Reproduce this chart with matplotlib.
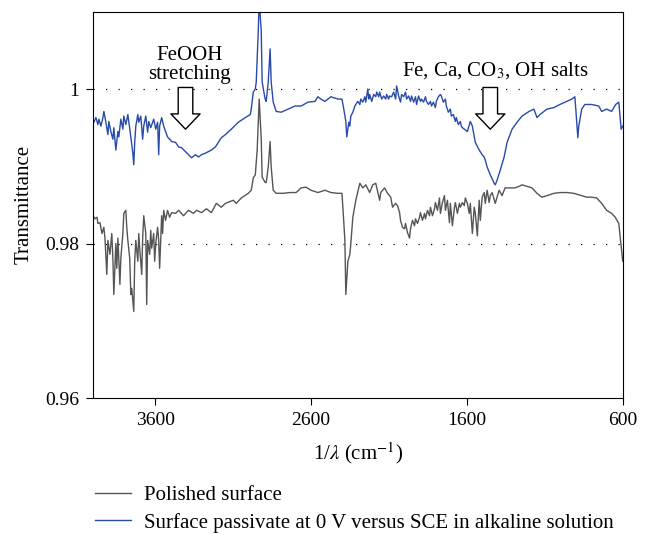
import matplotlib
matplotlib.use("Agg")
import matplotlib.pyplot as plt

plt.rcParams['font.family'] = ['Liberation Serif', 'DejaVu Serif']
plt.rcParams['mathtext.fontset'] = 'stix'

# wavenumber (cm-1) / transmittance
blue_wn = [4000, 3994, 3981, 3968, 3962, 3949, 3936, 3930, 3917, 3904,
           3898, 3885, 3872, 3866, 3853, 3840, 3834, 3821, 3808, 3802,
           3789, 3776, 3770, 3757, 3744, 3738, 3732, 3725, 3712, 3706,
           3693, 3681, 3674, 3661, 3649, 3642, 3629, 3617, 3610, 3597,
           3585, 3578, 3572, 3559, 3546, 3534, 3521, 3508, 3495, 3470,
           3450, 3431, 3406, 3387, 3367, 3342, 3323, 3303, 3278, 3259,
           3240, 3214, 3195, 3176, 3150, 3112, 3067, 3022, 2990, 2984,
           2971, 2958, 2952, 2939, 2933, 2920, 2914, 2895, 2888, 2875,
           2863, 2856, 2843, 2824, 2792, 2748, 2703, 2664, 2620, 2575,
           2556, 2537, 2511, 2473, 2428, 2402, 2390, 2377, 2371, 2358,
           2351, 2345, 2332, 2319, 2313, 2300, 2287, 2281, 2268, 2255,
           2249, 2236, 2230, 2224, 2211, 2198, 2185, 2179, 2166, 2160,
           2147, 2134, 2121, 2115, 2102, 2096, 2083, 2070, 2057, 2051,
           2038, 2026, 2019, 2006, 1994, 1987, 1974, 1962, 1955, 1942,
           1930, 1923, 1910, 1898, 1891, 1878, 1866, 1859, 1847, 1834,
           1827, 1815, 1802, 1796, 1783, 1770, 1764, 1751, 1738, 1732,
           1719, 1706, 1700, 1687, 1674, 1668, 1655, 1642, 1636, 1629,
           1597, 1578, 1565, 1546, 1521, 1502, 1489, 1482, 1470, 1450,
           1425, 1418, 1406, 1386, 1361, 1342, 1310, 1278, 1246, 1201,
           1170, 1150, 1131, 1086, 1041, 1003, 958, 926, 907, 901,
           888, 882, 863, 843, 799, 754, 735, 703, 671, 645,
           625, 610, 600]
blue_t = [0.9961, 0.9957, 0.9963, 0.9954, 0.9961, 0.9952, 0.9963, 0.9971, 0.9957, 0.9941,
          0.9958, 0.9945, 0.9935, 0.9950, 0.9921, 0.9945, 0.9938, 0.9961, 0.9948, 0.9965,
          0.9954, 0.9967, 0.9958, 0.9938, 0.9917, 0.9902, 0.9931, 0.9952, 0.9967, 0.9957,
          0.9965, 0.9935, 0.9952, 0.9965, 0.9944, 0.9958, 0.9950, 0.9957, 0.9961, 0.9948,
          0.9957, 0.9915, 0.9952, 0.9963, 0.9952, 0.9945, 0.9938, 0.9935, 0.9932, 0.9931,
          0.9925, 0.9924, 0.9919, 0.9915, 0.9911, 0.9915, 0.9912, 0.9915, 0.9917, 0.9919,
          0.9921, 0.9925, 0.9931, 0.9937, 0.9941, 0.9948, 0.9957, 0.9963, 0.9967, 0.9974,
          0.9996, 1.0000, 1.0009, 1.0075, 1.0115, 1.0075, 1.0009, 0.9987, 0.9984, 1.0009,
          1.0052, 1.0009, 0.9983, 0.9971, 0.9970, 0.9974, 0.9978, 0.9978, 0.9983, 0.9984,
          0.9990, 0.9987, 0.9984, 0.9990, 0.9987, 0.9987, 0.9974, 0.9958, 0.9938, 0.9957,
          0.9952, 0.9965, 0.9970, 0.9978, 0.9980, 0.9984, 0.9980, 0.9987, 0.9983, 0.9990,
          0.9983, 1.0000, 0.9987, 0.9993, 0.9984, 0.9993, 0.9990, 0.9996, 0.9990, 0.9996,
          0.9987, 0.9991, 0.9987, 0.9993, 0.9987, 0.9991, 0.9990, 0.9996, 0.9987, 1.0004,
          0.9991, 0.9983, 0.9993, 0.9990, 0.9996, 0.9987, 0.9991, 0.9984, 0.9991, 0.9983,
          0.9990, 0.9980, 0.9991, 0.9984, 0.9987, 0.9983, 0.9990, 0.9984, 0.9980, 0.9984,
          0.9978, 0.9983, 0.9976, 0.9984, 0.9990, 0.9993, 0.9991, 0.9983, 0.9987, 0.9978,
          0.9970, 0.9974, 0.9965, 0.9967, 0.9958, 0.9963, 0.9954, 0.9958, 0.9952, 0.9950,
          0.9945, 0.9958, 0.9952, 0.9931, 0.9921, 0.9915, 0.9912, 0.9908, 0.9899, 0.9889,
          0.9878, 0.9876, 0.9882, 0.9895, 0.9912, 0.9931, 0.9948, 0.9957, 0.9965, 0.9971,
          0.9974, 0.9963, 0.9967, 0.9974, 0.9976, 0.9980, 0.9984, 0.9987, 0.9990, 0.9974,
          0.9937, 0.9952, 0.9974, 0.9980, 0.9980, 0.9978, 0.9971, 0.9974, 0.9971, 0.9980,
          0.9983, 0.9948, 0.9952]

gray_wn = [4000, 3987, 3974, 3968, 3955, 3942, 3930, 3923, 3911, 3904,
           3891, 3879, 3872, 3866, 3853, 3847, 3840, 3827, 3821, 3808,
           3802, 3789, 3783, 3776, 3764, 3757, 3751, 3738, 3732, 3725,
           3712, 3706, 3700, 3687, 3681, 3674, 3661, 3655, 3649, 3636,
           3629, 3623, 3610, 3604, 3597, 3585, 3578, 3572, 3559, 3553,
           3546, 3534, 3521, 3508, 3495, 3470, 3450, 3419, 3387, 3355,
           3335, 3303, 3272, 3240, 3208, 3176, 3150, 3099, 3080, 3048,
           3003, 2984, 2971, 2958, 2946, 2933, 2920, 2914, 2895, 2888,
           2875, 2863, 2856, 2843, 2824, 2779, 2735, 2696, 2664, 2633,
           2601, 2556, 2511, 2473, 2428, 2402, 2396, 2383, 2377, 2364,
           2351, 2345, 2332, 2313, 2287, 2268, 2249, 2224, 2204, 2185,
           2160, 2153, 2128, 2109, 2089, 2077, 2058, 2045, 2032, 2026,
           2013, 2000, 1994, 1981, 1968, 1962, 1949, 1936, 1930, 1917,
           1904, 1898, 1885, 1872, 1866, 1853, 1840, 1834, 1821, 1808,
           1802, 1789, 1776, 1770, 1757, 1744, 1738, 1725, 1712, 1706,
           1693, 1680, 1674, 1661, 1648, 1642, 1629, 1617, 1610, 1597,
           1585, 1578, 1565, 1553, 1546, 1533, 1521, 1514, 1502, 1489,
           1482, 1470, 1457, 1450, 1438, 1418, 1393, 1374, 1355, 1323,
           1291, 1265, 1246, 1214, 1182, 1150, 1119, 1086, 1041, 1003,
           958, 914, 863, 831, 799, 767, 735, 703, 671, 648,
           625, 600]
gray_t = [0.9836, 0.9832, 0.9834, 0.9826, 0.9827, 0.9813, 0.9821, 0.9807, 0.9760, 0.9804,
          0.9786, 0.9813, 0.9781, 0.9734, 0.9800, 0.9768, 0.9807, 0.9747, 0.9781, 0.9813,
          0.9839, 0.9843, 0.9821, 0.9804, 0.9781, 0.9734, 0.9742, 0.9712, 0.9777, 0.9804,
          0.9777, 0.9813, 0.9794, 0.9760, 0.9807, 0.9836, 0.9813, 0.9721, 0.9804, 0.9786,
          0.9817, 0.9794, 0.9813, 0.9777, 0.9800, 0.9821, 0.9804, 0.9768, 0.9836, 0.9813,
          0.9843, 0.9830, 0.9843, 0.9834, 0.9840, 0.9839, 0.9843, 0.9836, 0.9843, 0.9839,
          0.9843, 0.9840, 0.9845, 0.9840, 0.9852, 0.9847, 0.9852, 0.9856, 0.9852, 0.9859,
          0.9865, 0.9869, 0.9885, 0.9889, 0.9921, 0.9987, 0.9935, 0.9886, 0.9879, 0.9879,
          0.9899, 0.9932, 0.9899, 0.9869, 0.9865, 0.9865, 0.9866, 0.9866, 0.9872, 0.9873,
          0.9869, 0.9866, 0.9869, 0.9866, 0.9865, 0.9865, 0.9847, 0.9804, 0.9734, 0.9777,
          0.9786, 0.9800, 0.9834, 0.9856, 0.9878, 0.9872, 0.9876, 0.9866, 0.9876, 0.9878,
          0.9856, 0.9866, 0.9872, 0.9865, 0.9860, 0.9847, 0.9852, 0.9849, 0.9840, 0.9830,
          0.9821, 0.9819, 0.9826, 0.9814, 0.9807, 0.9819, 0.9830, 0.9823, 0.9832, 0.9826,
          0.9834, 0.9840, 0.9830, 0.9839, 0.9832, 0.9843, 0.9836, 0.9847, 0.9836, 0.9845,
          0.9853, 0.9843, 0.9859, 0.9839, 0.9853, 0.9862, 0.9843, 0.9856, 0.9827, 0.9852,
          0.9823, 0.9847, 0.9853, 0.9839, 0.9852, 0.9847, 0.9853, 0.9849, 0.9859, 0.9852,
          0.9839, 0.9852, 0.9813, 0.9847, 0.9839, 0.9810, 0.9856, 0.9830, 0.9860, 0.9866,
          0.9852, 0.9869, 0.9853, 0.9862, 0.9866, 0.9852, 0.9869, 0.9862, 0.9872, 0.9872,
          0.9872, 0.9874, 0.9876, 0.9874, 0.9872, 0.9865, 0.9860, 0.9862, 0.9865, 0.9866,
          0.9866, 0.9865, 0.9862, 0.9860, 0.9860, 0.9859, 0.9852, 0.9843, 0.9839, 0.9834,
          0.9826, 0.9777]

x_ticks = [3600, 2600, 1600, 600]
y_ticks = [0.96, 0.98, 1.0]
y_ticklabels = ['0.96', '0.98', '1']

fig = plt.figure(figsize=(6.5, 5.35), dpi=100)
ax = fig.add_axes([0.143, 0.256, 0.815, 0.722])

ax.plot(gray_wn, gray_t, color='#555555', lw=1.0, label='Polished surface')
ax.plot(blue_wn, blue_t, color='#2a4aa8', lw=1.0,
        label='Surface passivate at 0 V versus SCE in alkaline solution')

for yv in [1.0, 0.98]:
    ax.axhline(yv, color='black', lw=0.9, linestyle=(0, (1, 9)), zorder=0)

ax.set_xlim(4000, 600)
ax.set_ylim(0.96, 1.01)
ax.set_xticks(x_ticks)
ax.set_yticks(y_ticks)
ax.set_yticklabels(y_ticklabels)
ax.tick_params(labelsize=14, direction='out', length=5, pad=5)
ax.set_xlabel(r'1/$\lambda$ (cm$^{-1}$)', fontsize=15)
ax.set_ylabel('Transmittance', fontsize=15)
ax.xaxis.set_label_coords(0.5, -0.109)
ax.yaxis.set_label_coords(-0.112, 0.5)

arrow = dict(arrowstyle='simple,head_width=2.1,head_length=1.1,tail_width=1.05',
             fc='white', ec='black', lw=1.0, shrinkA=0, shrinkB=0, mutation_scale=10)
ax.annotate('', xy=(3406, 0.9948), xytext=(3406, 1.0002), arrowprops=arrow)
ax.annotate('', xy=(1450, 0.9948), xytext=(1450, 1.0002), arrowprops=arrow)
ax.text(3380, 1.0031, 'FeOOH\nstretching', ha='center', va='center',
        fontsize=15, linespacing=1.05)
ax.text(1418, 1.0017, r'Fe, Ca, CO$_3$, OH salts', ha='center', va='baseline', fontsize=15)

fig.legend(loc='upper left', bbox_to_anchor=(0.118, 0.127), frameon=False,
           fontsize=15, handlelength=1.7, handletextpad=0.63, labelspacing=0.35)

fig.savefig('out.png', dpi=100)
